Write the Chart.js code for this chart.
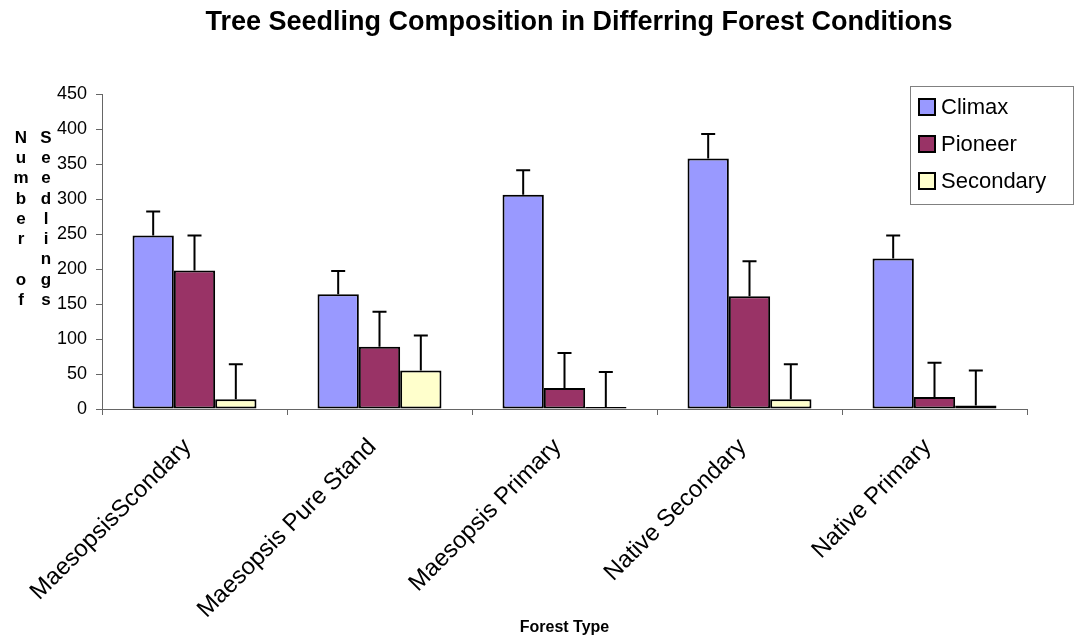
<!DOCTYPE html>
<html>
<head>
<meta charset="utf-8">
<script src="https://cdn.jsdelivr.net/npm/chart.js@4.4.1/dist/chart.umd.min.js"></script>
<style>
  html, body { margin: 0; padding: 0; background: #fff; }
  #wrap { width: 1076px; height: 641px; position: relative; }
</style>
</head>
<body>
<div id="wrap"><canvas id="seedlingChart"></canvas></div>
<script>
// Data
const forestTypes = ["MaesopsisScondary", "Maesopsis Pure Stand", "Maesopsis Primary", "Native Secondary", "Native Primary"];
const climax = [248, 164, 306, 358, 215];
const climaxErr = [34, 33, 35, 35, 33];
const pioneer = [198, 89, 30, 161, 17];
const pioneerErr = [50, 50, 50, 50, 49];
const secondary = [14, 55, 3, 14, 5];
const secondaryErr = [50, 50, 50, 50, 50];
const yMax = 450;
const yStep = 50;

const FONT = "'Liberation Sans', Arial, sans-serif";

// error bars on top of each bar (plus side only)
const errorBars = {
    id: "errorBars",
    afterDatasetsDraw(chart) {
        const ctx = chart.ctx;
        const yScale = chart.scales.y;
        ctx.save();
        ctx.strokeStyle = "#000";
        ctx.lineWidth = 2;
        chart.data.datasets.forEach((ds, i) => {
            const meta = chart.getDatasetMeta(i);
            meta.data.forEach((bar, j) => {
                const top = yScale.getPixelForValue(ds.data[j] + ds.errors[j]);
                ctx.beginPath();
                ctx.moveTo(bar.x, bar.y);
                ctx.lineTo(bar.x, top);
                ctx.moveTo(bar.x - 7, top);
                ctx.lineTo(bar.x + 7, top);
                ctx.stroke();
            });
        });
        ctx.restore();
    }
};

// title, stacked y-axis title and the boxed legend
const decorations = {
    id: "decorations",
    afterDraw(chart) {
        const ctx = chart.ctx;
        ctx.save();
        ctx.fillStyle = "#000";

        // chart title
        ctx.font = "bold 27px " + FONT;
        ctx.textAlign = "center";
        ctx.textBaseline = "alphabetic";
        ctx.fillText("Tree Seedling Composition in Differring Forest Conditions", 579, 30);

        // y-axis title, one letter per line in two columns
        ctx.textBaseline = "middle";
        ctx.font = "bold 17px " + FONT;
        const col1 = "Number of".split("");
        const col2 = "Seedlings".split("");
        col1.forEach((ch, k) => ctx.fillText(ch, 21, 138 + k * 20.3));
        col2.forEach((ch, k) => ctx.fillText(ch, 46, 138 + k * 20.3));

        // legend box
        ctx.fillStyle = "#fff";
        ctx.fillRect(910, 86, 164, 119);
        ctx.strokeStyle = "#808080";
        ctx.lineWidth = 1;
        ctx.strokeRect(910.5, 86.5, 163, 118);
        ctx.font = "22px " + FONT;
        ctx.textAlign = "left";
        chart.data.datasets.forEach((ds, i) => {
            const cy = 107 + i * 37;
            ctx.fillStyle = ds.backgroundColor;
            ctx.fillRect(919, cy - 8, 16, 16);
            ctx.strokeStyle = "#000";
            ctx.lineWidth = 2;
            ctx.strokeRect(919, cy - 8, 16, 16);
            ctx.fillStyle = "#000";
            ctx.fillText(ds.label, 941, cy + 1);
        });
        ctx.restore();
    }
};

const ctx = document.getElementById("seedlingChart").getContext("2d");

const seedlingChart = new Chart(ctx, {
    type: "bar",
    data: {
        labels: forestTypes,
        datasets: [
            { label: "Climax", data: climax, errors: climaxErr, backgroundColor: "#9999FF" },
            { label: "Pioneer", data: pioneer, errors: pioneerErr, backgroundColor: "#993366" },
            { label: "Secondary", data: secondary, errors: secondaryErr, backgroundColor: "#FFFFCC" }
        ]
    },
    options: {
        responsive: true,
        maintainAspectRatio: false,
        animation: false,
        layout: { padding: { top: 94, right: 49, left: 0, bottom: 0 } },
        datasets: {
            bar: {
                categoryPercentage: 0.67,
                barPercentage: 1,
                borderColor: "#000",
                borderWidth: 2,
                borderSkipped: false
            }
        },
        plugins: {
            legend: { display: false },
            tooltip: { enabled: false },
            title: { display: false }
        },
        scales: {
            x: {
                grid: {
                    display: true,
                    drawOnChartArea: false,
                    offset: true,
                    tickLength: 6,
                    color: "#666"
                },
                border: { color: "#666", width: 1 },
                ticks: {
                    color: "#000",
                    font: { family: FONT, size: 24 },
                    maxRotation: 45,
                    minRotation: 45,
                    padding: 18,
                    labelOffset: -7
                },
                title: {
                    display: true,
                    text: "Forest Type",
                    color: "#000",
                    font: { family: FONT, size: 16, weight: "bold" },
                    padding: { top: 0, bottom: 4 }
                },
                afterFit(scale) { scale.height = 232; }
            },
            y: {
                min: 0,
                max: yMax,
                grid: {
                    display: true,
                    drawOnChartArea: false,
                    tickLength: 6,
                    color: "#666"
                },
                border: { color: "#666", width: 1 },
                ticks: {
                    stepSize: yStep,
                    color: "#000",
                    font: { family: FONT, size: 18 },
                    padding: 9
                },
                afterFit(scale) { scale.width = 102; }
            }
        }
    },
    plugins: [errorBars, decorations]
});
</script>
</body>
</html>
